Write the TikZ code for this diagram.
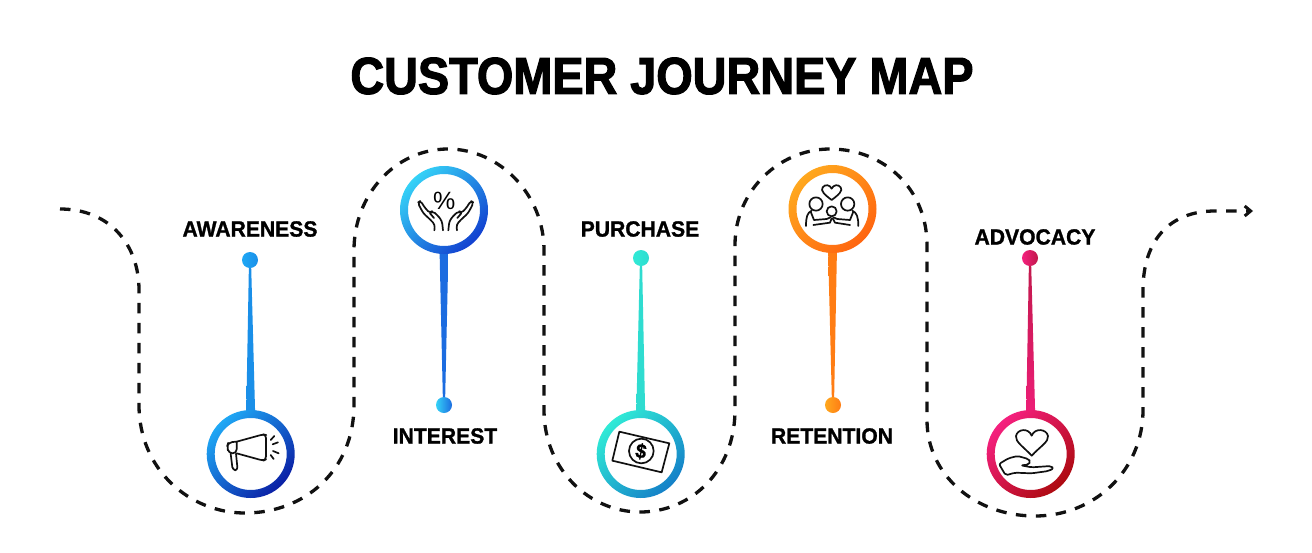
\documentclass[tikz,border=0pt]{standalone}
\usepackage{fontspec}
\setmainfont{Liberation Sans}
\newfontfamily\heavy{Liberation Sans Bold}[FakeBold=1.2,FakeStretch=0.96]
\newfontfamily\titlefont{Liberation Sans Bold}[FakeBold=2.2,FakeStretch=0.9]
\usetikzlibrary{arrows.meta,calc}
\definecolor{ink}{HTML}{111111}
\definecolor{aL}{HTML}{1FA8F5}\definecolor{aD}{HTML}{0A1FA5}\definecolor{aS}{HTML}{1A8FE8}
\definecolor{bL}{HTML}{35D2F7}\definecolor{bD}{HTML}{1240D0}\definecolor{bS}{HTML}{1C6CE0}
\definecolor{cL}{HTML}{30EAD6}\definecolor{cD}{HTML}{1480C8}\definecolor{cS}{HTML}{2FDCD0}
\definecolor{dL}{HTML}{FFA81E}\definecolor{dD}{HTML}{FF6510}\definecolor{dS}{HTML}{FF7D14}
\definecolor{eL}{HTML}{F5207F}\definecolor{eD}{HTML}{AD0A10}\definecolor{eS}{HTML}{EE1E78}\definecolor{eT}{HTML}{C0184A}
\tikzset{
  journey/.style={line width=3.3pt,draw=ink,dash pattern=on 10.5pt off 9.5pt},
  icon/.style={line width=1.7pt,draw=ink,line join=round,line cap=round},
  ringbase/.style={circle,minimum size=88pt,inner sep=0pt,fill=white},
  pindot/.style={circle,minimum size=16pt,inner sep=0pt},
  steplabel/.style={font=\heavy\fontsize{22}{24}\selectfont,text=black,inner sep=0pt},
  maintitle/.style={font=\titlefont\fontsize{52}{56}\selectfont,text=black,inner sep=0pt},
}
\newcommand{\ringshade}[3]{%
  \shade[even odd rule,left color=#2,right color=#3,shading angle=45]
    (#1) circle[radius=44] (#1) circle[radius=36];}
\newcommand{\spikedown}[4]{% dot above ring: dot, ring, top colour, bottom colour
  \shade[top color=#3,bottom color=#4]
    ($(#1)+(-1,0)$) -- ($(#1)+(1,0)$) -- ($(#2)+(4.5,-38)$) -- ($(#2)+(-4.5,-38)$) -- cycle;}
\newcommand{\spikeup}[4]{% dot below ring
  \shade[top color=#3,bottom color=#4]
    ($(#2)+(-4.5,38)$) -- ($(#2)+(4.5,38)$) -- ($(#1)+(1,0)$) -- ($(#1)+(-1,0)$) -- cycle;}
\begin{document}
\begin{tikzpicture}[x=1pt,y=-1pt]
\useasboundingbox[fill=white] (0,0) rectangle (1312,552);

\node[maintitle] (t) at (662,76) {CUSTOMER JOURNEY MAP};

% journey line
\coordinate (js) at (60,209);
\coordinate (je) at (1253,211);
\draw[journey,-{Straight Barb[length=6pt,width=10pt,line width=3pt]}] (js)
  .. controls (110,209) and (139,245) .. (139,290)
  -- (139,405)
  .. controls (139,470) and (190,513) .. (245,513)
  .. controls (305,513) and (354,470) .. (354,405)
  -- (354,250)
  .. controls (354,195) and (395,149) .. (448,149)
  .. controls (500,149) and (544,195) .. (544,250)
  -- (544,410)
  .. controls (544,470) and (590,512) .. (640,512)
  .. controls (692,512) and (735,470) .. (735,410)
  -- (735,245)
  .. controls (735,190) and (780,149) .. (830,149)
  .. controls (885,149) and (927,190) .. (927,245)
  -- (927,420)
  .. controls (927,475) and (975,516) .. (1035,516)
  .. controls (1095,516) and (1143,470) .. (1143,410)
  -- (1143,290)
  .. controls (1143,240) and (1170,211) .. (1215,211)
  -- (je);

% rings' white bases
\node[ringbase] (r1) at (250.7,454) {};
\node[ringbase] (r2) at (444,210) {};
\node[ringbase] (r3) at (640.7,454) {};
\node[ringbase] (r4) at (832.5,209) {};
\node[ringbase] (r5) at (1030.7,454) {};

% dots
\coordinate (d1) at (250,260);
\coordinate (d2) at (444,405);
\coordinate (d3) at (641,258);
\coordinate (d4) at (833,405);
\coordinate (d5) at (1030,258);

% spikes
\spikedown{d1}{r1}{aS}{aS}
\spikeup{d2}{r2}{bS}{bS}
\spikedown{d3}{r3}{cS}{cS}
\spikeup{d4}{r4}{dS}{dS}
\spikedown{d5}{r5}{eT}{eS}

% rings
\ringshade{r1}{aL}{aD}
\ringshade{r2}{bL}{bD}
\ringshade{r3}{cL}{cD}
\ringshade{r4}{dL}{dD}
\ringshade{r5}{eL}{eD}

\node[pindot,left color=aL,right color=aS] (n1) at (d1) {};
\node[pindot,left color=bL,right color=bS] (n2) at (d2) {};
\node[pindot,left color=cL,right color=cS] (n3) at (d3) {};
\node[pindot,left color=dL,right color=dS] (n4) at (d4) {};
\node[pindot,left color=eL,right color=eT] (n5) at (d5) {};

% labels
\node[steplabel] (l1) at (250,229) {AWARENESS};
\node[steplabel] (l2) at (445,436) {INTEREST};
\node[steplabel] (l3) at (640,229) {PURCHASE};
\node[steplabel] (l4) at (832,436) {RETENTION};
\node[steplabel] (l5) at (1035,237) {ADVOCACY};

% megaphone
\begin{scope}[shift={(180,390)},scale=1/3]
  \draw[icon,rounded corners=3pt] (170,155) -- (250,133) -- (258,135) -- (258,208) -- (250,212) -- (170,190);
  \draw[icon,rounded corners=4pt] (170,155) -- (145,157) -- (141,170) -- (146,190) -- (170,190) -- (170,155);
  \draw[icon,rounded corners=3pt] (152,191) -- (158,240) -- (173,241) -- (168,191);
  \draw[icon] (272,150) -- (283,138) (278,163) -- (294,157) (279,183) -- (296,190) (272,195) -- (281,207);
\end{scope}

% hands and percent
\begin{scope}[shift={(380,150)},scale=1/3]
  \node[inner sep=0pt,font=\fontsize{25}{25}\selectfont] (pc) at (193,152) {\%};
  \foreach \s in {1,-1}{
    \begin{scope}[shift={(197,0)},xscale=\s,shift={(-197,0)}]
      \draw[icon,rounded corners=3pt]
        (163,241) -- (165,224) -- (150,208) -- (130,190) -- (113,158) -- (122,152)
        -- (132,170) -- (150,190) -- (157,183) -- (172,195) -- (186,213) -- (189,241);
      \draw[icon] (150,190) -- (162,204);
    \end{scope}}
\end{scope}

% banknote
\begin{scope}[shift={(580,390)},scale=1/3]
  \draw[icon] (118,125) -- (268,160) -- (245,247) -- (97,212) -- cycle;
  \draw[icon] (184,183) circle[radius=37];
  \node[inner sep=0pt,rotate=-10,font=\heavy\fontsize{20}{20}\selectfont] (dollar) at (183,184) {\$};
\end{scope}

% family with heart
\begin{scope}[shift={(770,150)},scale=1/3]
  \draw[icon] (185,150) .. controls (165,135) and (150,122) .. (158,112)
     .. controls (165,102) and (180,104) .. (185,116)
     .. controls (190,104) and (205,102) .. (212,112)
     .. controls (220,122) and (205,135) .. (185,150) -- cycle;
  \draw[icon] (138,162) circle[radius=20];
  \draw[icon] (233,162) circle[radius=20];
  \draw[icon] (185,184) circle[radius=15];
  \draw[icon] (108,228) .. controls (108,200) and (112,188) .. (125,182);
  \draw[icon] (122,185) -- (132,210) -- (170,207) -- (182,202);
  \draw[icon] (130,225) -- (180,218) -- (185,205);
  \draw[icon] (265,228) .. controls (265,200) and (260,188) .. (247,182);
  \draw[icon] (250,185) -- (240,210) -- (202,207) -- (190,202);
  \draw[icon] (240,225) -- (195,218) -- (188,205);
\end{scope}

% heart in hand
\begin{scope}[shift={(965,390)},scale=1/3]
  \draw[icon] (200,197) .. controls (175,170) and (150,155) .. (153,138)
     .. controls (157,117) and (190,112) .. (200,137)
     .. controls (210,112) and (245,117) .. (249,138)
     .. controls (252,155) and (225,170) .. (200,197) -- cycle;
  \draw[icon,rounded corners=2pt] (168,226) -- (190,224) -- (197,215) -- (190,207) -- (158,198) -- (130,205)
     -- (102,222) -- (122,256) -- (150,248) -- (200,250) -- (250,243) -- (266,235) -- (258,228) -- (200,232) -- cycle;
\end{scope}
\end{tikzpicture}
\end{document}
